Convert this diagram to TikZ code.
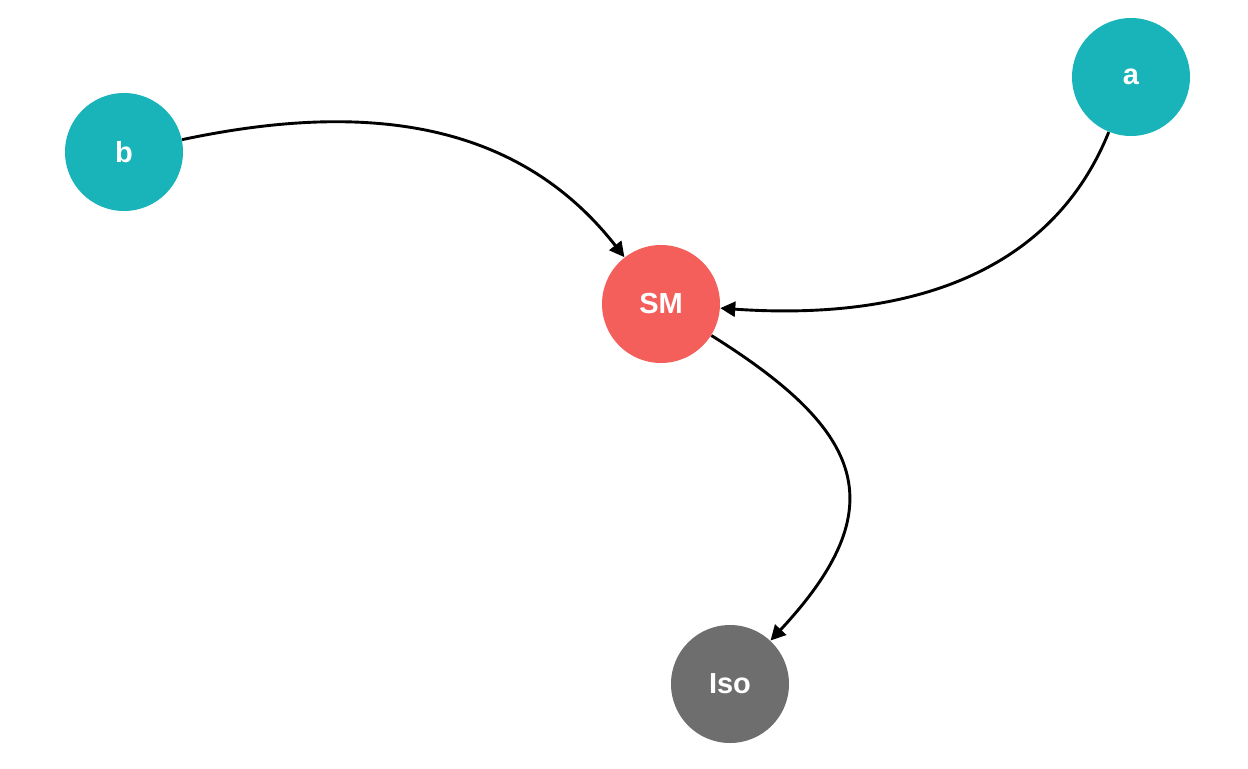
\documentclass[tikz,border=0pt]{standalone}
\usepackage{fontspec}
\setmainfont{Liberation Sans}
\usetikzlibrary{arrows.meta}

\definecolor{teal}{HTML}{19B4B9}
\definecolor{coral}{HTML}{F45F5C}
\definecolor{slate}{HTML}{6E6E6E}

\begin{document}
\begin{tikzpicture}[
    % One unit is half a point, so the canvas matches the 1248 x 768 layout.
    x=0.5pt,
    y=0.5pt
]
    % --- Style Definitions ---
    % Every vertex is a filled circle with bold white text.
    % Edges are thick black curves ending in a solid triangle.
    \tikzstyle{vertex} = [circle, minimum size=59pt, inner sep=0pt,
                          text=white, font=\fontsize{14.5}{16}\selectfont\bfseries]
    \tikzstyle{edge} = [draw, line width=1.45pt, black,
                        -{Triangle[length=7.5pt,width=7.5pt]}]

    % --- Canvas ---
    \useasboundingbox (0,0) rectangle (1248,768);

    % --- Vertices ---
    \node[vertex, fill=teal]  (b)   at (124,616)  {b};
    \node[vertex, fill=teal]  (a)   at (1131,691) {a};
    \node[vertex, fill=coral] (SM)  at (661,464)  {SM};
    \node[vertex, fill=slate] (Iso) at (730,84)   {Iso};

    % --- Edges ---
    \draw[edge] (b)  to[out=12, in=128] (SM);
    \draw[edge] (a)  to[out=248, in=-4]  (SM);
    \draw[edge] (SM) to[out=-32, in=47, looseness=1.5] (Iso);
\end{tikzpicture}
\end{document}
